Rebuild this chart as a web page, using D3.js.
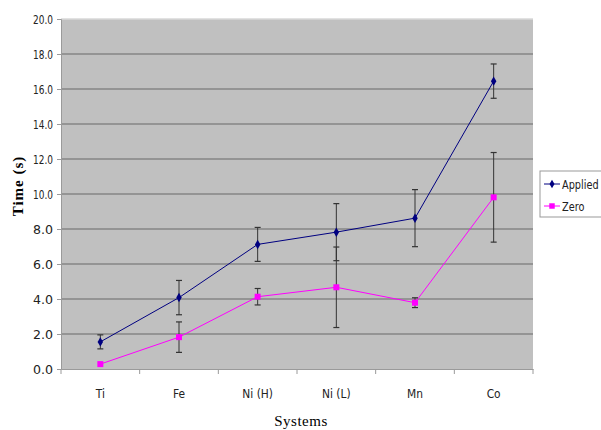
<!DOCTYPE html>
<html><head><meta charset="utf-8">
<script src="https://cdn.jsdelivr.net/npm/d3@7"></script>
<style>
body{margin:0;background:#fff;}
svg{display:block;}
.cond{font-family:"DejaVu Sans","Liberation Sans",sans-serif;}
</style></head>
<body><svg id="c" width="601" height="430"></svg>
<script>
const categories = ["Ti","Fe","Ni (H)","Ni (L)","Mn","Co"];
const appliedValues = [1.55, 4.08, 7.12, 7.82, 8.62, 16.45];
const appliedErrors = [0.40, 0.98, 0.97, 1.63, 1.63, 0.98];
const zeroValues = [0.28, 1.82, 4.13, 4.67, 3.79, 9.81];
const zeroErrors = [0.0, 0.87, 0.47, 2.30, 0.28, 2.56];
const yTicks = [0,2,4,6,8,10,12,14,16,18,20];
const seriesNames = ["Applied","Zero"];

const svg = d3.select("#c");
const m = {l:61, r:533, t:19, b:369};
const x = d3.scaleBand().domain(categories).range([m.l, m.r]);
const y = d3.scaleLinear().domain([0,20]).range([m.b, m.t]);

svg.append("rect").attr("x",m.l).attr("y",m.t).attr("width",m.r-m.l).attr("height",m.b-m.t).attr("fill","#c0c0c0");

svg.append("g").selectAll("line").data(yTicks.slice(1)).join("line")
  .attr("x1",m.l).attr("x2",m.r).attr("y1",d=>y(d)).attr("y2",d=>y(d))
  .attr("stroke",d=>d===20?"#d8d8d8":"#868686").attr("stroke-width",1.3);

const ya = svg.append("g").attr("transform",`translate(${m.l},0)`)
  .call(d3.axisLeft(y).tickValues(yTicks).tickFormat(d3.format(".1f")).tickSize(4).tickPadding(4));
ya.select(".domain").attr("stroke","#9a9a9a");
ya.selectAll(".tick line").attr("stroke","#9a9a9a");
ya.selectAll(".tick text").attr("font-size",13).attr("fill","#222").attr("class","cond")
  .attr("textLength",20).attr("lengthAdjust","spacingAndGlyphs");

const xa = svg.append("g").attr("transform",`translate(0,${m.b})`)
  .call(d3.axisBottom(x).tickSize(0).tickPadding(0).tickFormat(""));
xa.select(".domain").attr("stroke","#9a9a9a");
xa.selectAll(".tick").append("text")
  .attr("transform","translate(0,29) scale(0.82,1)").attr("text-anchor","middle")
  .attr("font-size",13).attr("fill","#222").attr("class","cond").text(d=>d);
const seps = categories.map(c=>x(c)).concat([m.r]);
svg.append("g").selectAll("line").data(seps).join("line")
  .attr("x1",d=>d).attr("x2",d=>d).attr("y1",m.b).attr("y2",m.b+5)
  .attr("stroke","#9a9a9a");

const cx = c => x(c)+x.bandwidth()/2;

function drawSeries(vals, errs, color, shape){
  const g = svg.append("g");
  g.append("path").datum(vals).attr("fill","none").attr("stroke",color).attr("stroke-width",1)
    .attr("d", d3.line().x((d,i)=>cx(categories[i])).y(d=>y(d)));
  const eb = g.append("g");
  vals.forEach((v,i)=>{
    const e = errs[i]; if(!e) return;
    const px = cx(categories[i]);
    eb.append("line").attr("x1",px).attr("x2",px).attr("y1",y(v+e)).attr("y2",y(v-e)).attr("stroke","#333").attr("stroke-width",1);
    [v+e,v-e].forEach(t=>eb.append("line").attr("x1",px-3).attr("x2",px+3).attr("y1",y(t)).attr("y2",y(t)).attr("stroke","#333").attr("stroke-width",1.2));
  });
  g.selectAll(".pt").data(vals).join("path").attr("class","pt")
    .attr("transform",(d,i)=>`translate(${cx(categories[i])},${y(d)})`)
    .attr("d", d3.symbol().type(shape).size(shape===d3.symbolSquare?36:26)())
    .attr("fill",color);
}
drawSeries(zeroValues, zeroErrors, "#ff00ff", d3.symbolSquare);
drawSeries(appliedValues, appliedErrors, "#000080", d3.symbolDiamond);

const lg = svg.append("g");
lg.append("rect").attr("x",540).attr("y",171).attr("width",70).attr("height",46).attr("fill","#fff").attr("stroke","#999");
const colors = ["#000080","#ff00ff"], shapes=[d3.symbolDiamond,d3.symbolSquare];
seriesNames.forEach((n,i)=>{
  const yy = 184 + i*22;
  lg.append("line").attr("x1",544).attr("x2",560).attr("y1",yy).attr("y2",yy).attr("stroke",colors[i]);
  lg.append("path").attr("transform",`translate(552,${yy})`).attr("d",d3.symbol().type(shapes[i]).size(i?30:22)()).attr("fill",colors[i]);
  lg.append("text").attr("transform",`translate(562,${yy+5}) scale(0.78,1)`).text(n).attr("font-size",12.5).attr("fill","#222").attr("class","cond");
});

svg.append("text").attr("transform","translate(23,186) rotate(-90)").attr("text-anchor","middle")
  .attr("font-family","'Liberation Serif','DejaVu Serif',serif").attr("font-weight","bold").attr("font-size",15).attr("letter-spacing",1).text("Time (s)");
svg.append("text").attr("x",301).attr("y",426).attr("text-anchor","middle")
  .attr("font-family","'Liberation Serif','DejaVu Serif',serif").attr("font-size",15).attr("letter-spacing",0.5).text("Systems");
</script></body></html>
